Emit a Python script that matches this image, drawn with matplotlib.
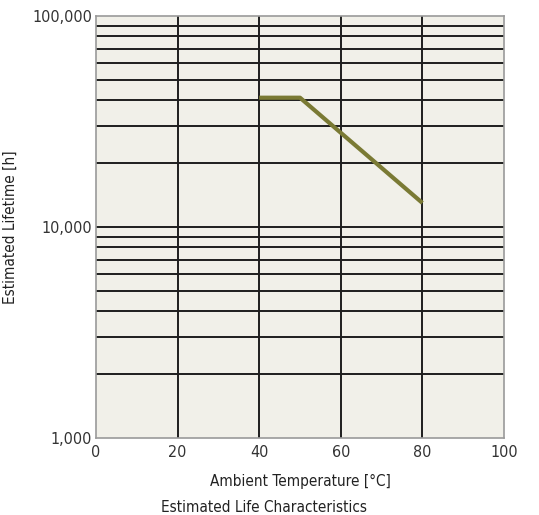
import matplotlib
matplotlib.use("Agg")
import matplotlib.pyplot as plt
from matplotlib.ticker import FixedLocator, NullFormatter

temps = [40, 50, 80]
lifetime = [41000, 41000, 13000]
x_ticks = [0, 20, 40, 60, 80, 100]
y_ticks = [1000, 10000, 100000]
y_tick_labels = ["1,000", "10,000", "100,000"]

plt.rcParams['font.family'] = ['DejaVu Sans']
plt.rcParams['font.stretch'] = 'condensed'

fig = plt.figure(figsize=(5.39, 5.15), dpi=100)
ax = fig.add_axes([96/539, 77/515, 408/539, 422/515])
ax.set_facecolor('#f1f0e9')
ax.set_xlim(0, 100)
ax.set_ylim(1000, 100000)
ax.set_yscale('log')

minor = [m * 10**e for e in (3, 4) for m in range(2, 10)]
for y in minor:
    ax.axhline(y, color='#1e1e1e', lw=1.4, zorder=1)
ax.axhline(10000, color='#1e1e1e', lw=1.4, zorder=1)
for x in x_ticks[1:-1]:
    ax.axvline(x, color='#1e1e1e', lw=1.4, zorder=1)

ax.plot(temps, lifetime, color='#7a7a34', lw=3, zorder=3, solid_capstyle='butt')

ax.xaxis.set_major_locator(FixedLocator(x_ticks))
ax.yaxis.set_major_locator(FixedLocator(y_ticks))
ax.yaxis.set_minor_locator(FixedLocator(minor))
ax.yaxis.set_minor_formatter(NullFormatter())
ax.set_yticklabels(y_tick_labels)
ax.tick_params(axis='both', which='both', length=0, labelsize=11.5, colors='#333333')
ax.tick_params(axis='x', pad=5)
ax.tick_params(axis='y', pad=3)
for s in ax.spines.values():
    s.set_color('#9a9a9a')
    s.set_linewidth(1.2)

ax.set_xlabel('Ambient Temperature [°C]', fontsize=11, color='#222222', labelpad=10)
fig.text(10/539, 1 - 227/515, 'Estimated Lifetime [h]', rotation=90, ha='center', va='center',
         fontsize=11, color='#222222')
fig.text(264/539, 1 - 508/515, 'Estimated Life Characteristics', ha='center', va='center',
         fontsize=11, color='#222222')

fig.savefig('out.png', dpi=100)
